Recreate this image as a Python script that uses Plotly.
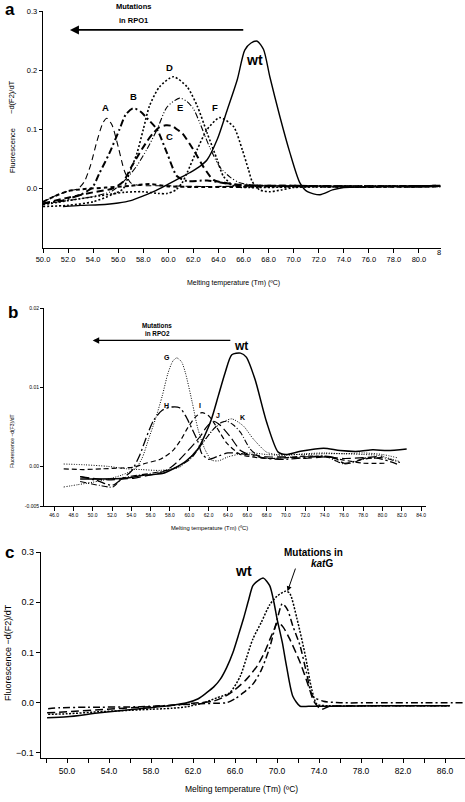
import plotly.graph_objects as go

# ---------------- Panel a data (RPO1) ----------------
a_wt_x = [51.6, 53, 54.5, 56, 57, 58, 59, 60, 61, 61.7, 62.4, 63.1, 63.9, 64.7, 65.5, 66.1, 66.6, 67.1, 67.6, 68.1, 68.9, 69.7, 70.5, 71.1, 72.1, 73.1, 74, 76, 78, 80, 81.7]
a_wt_y = [-0.030, -0.028, -0.027, -0.024, -0.020, -0.012, -0.003, 0.008, 0.019, 0.027, 0.036, 0.049, 0.083, 0.133, 0.184, 0.234, 0.246, 0.249, 0.235, 0.189, 0.122, 0.061, 0.010, -0.005, -0.010, -0.002, 0.002, 0.003, 0.004, 0.003, 0.004]
a_A_x = [50, 51, 52, 52.8, 53.3, 53.8, 54.3, 54.8, 55.1, 55.5, 56.0, 56.5, 57.0, 57.6, 58.5, 60, 62, 65, 70, 75, 81.7]
a_A_y = [-0.022, -0.012, -0.004, 0.0, 0.012, 0.04, 0.08, 0.112, 0.119, 0.108, 0.071, 0.03, 0.01, 0.006, 0.005, 0.005, 0.004, 0.004, 0.005, 0.004, 0.005]
a_B_x = [50, 51.5, 53, 53.6, 54.0, 54.5, 55.3, 56.1, 56.6, 57.2, 57.8, 58.3, 59.1, 59.9, 60.7, 61.5, 63.1, 65.2, 67, 70, 75, 81.7]
a_B_y = [-0.025, -0.02, -0.01, -0.003, 0.004, 0.026, 0.06, 0.1, 0.125, 0.136, 0.13, 0.119, 0.1, 0.06, 0.021, 0.013, 0.014, 0.007, 0.005, 0.005, 0.004, 0.005]
a_C_x = [50, 52, 54, 55.5, 56.4, 57, 57.7, 58.3, 58.8, 59.3, 59.8, 60.3, 60.7, 61.1, 62, 62.8, 63.6, 64.5, 66, 70, 75, 81.7]
a_C_y = [-0.025, -0.015, -0.006, 0.0, 0.012, 0.035, 0.06, 0.08, 0.094, 0.104, 0.107, 0.106, 0.1, 0.094, 0.066, 0.037, 0.015, 0.01, 0.006, 0.005, 0.004, 0.005]
a_D_x = [50, 52, 54, 55.5, 56.4, 56.9, 57.5, 58.0, 58.5, 59.3, 60.4, 61.5, 62.3, 63.1, 63.9, 64.4, 65.3, 66.5, 70, 75, 81.7]
a_D_y = [-0.03, -0.028, -0.022, -0.01, 0.0, 0.027, 0.06, 0.1, 0.14, 0.172, 0.189, 0.172, 0.14, 0.094, 0.049, 0.021, 0.004, 0.002, 0.003, 0.003, 0.004]
a_E_x = [50, 52, 54, 55.5, 56.7, 57.5, 58.3, 59.1, 59.9, 60.9, 61.5, 62.0, 62.5, 63.3, 64.1, 64.9, 65.7, 67, 70, 75, 81.7]
a_E_y = [-0.025, -0.02, -0.013, -0.004, 0.018, 0.039, 0.067, 0.1, 0.138, 0.153, 0.147, 0.135, 0.112, 0.07, 0.037, 0.02, 0.01, 0.006, 0.004, 0.005, 0.004]
a_F_x = [50, 52, 54.5, 56.5, 58, 59.2, 59.9, 60.6, 61.1, 61.5, 62.3, 63.1, 64.1, 65.2, 65.9, 66.4, 66.7, 67.3, 68.1, 69, 70, 72, 75, 81.7]
a_F_y = [-0.027, -0.02, -0.012, -0.006, -0.005, -0.008, -0.008, -0.002, 0.01, 0.027, 0.066, 0.1, 0.12, 0.105, 0.066, 0.032, 0.012, -0.002, -0.005, -0.002, 0.002, 0.004, 0.004, 0.005]
a_base_x = [50, 51, 52, 53, 55, 57, 58.5, 60, 62, 65, 70, 75, 81.7]
a_base_y = [-0.022, -0.012, -0.004, -0.001, 0.002, 0.005, 0.008, 0.004, 0.003, 0.003, 0.004, 0.003, 0.004]
a_xticks = [50, 52, 54, 56, 58, 60, 62, 64, 66, 68, 70, 72, 74, 76, 78, 80]
a_yticks = [0.0, 0.1, 0.2, 0.3]
a_labels = ["A", "B", "C", "D", "E", "F"]
a_label_x = [55.0, 57.2, 60.1, 60.1, 60.9, 63.7]
a_label_y = [0.137, 0.155, 0.088, 0.204, 0.137, 0.137]

# ---------------- Panel b data (RPO2) ----------------
b_wt_x = [48.7, 50.5, 53.3, 55.4, 57.2, 58.5, 59.6, 60.9, 61.6, 62.3, 63.0, 63.7, 64.4, 65.3, 65.9, 66.8, 68, 69.2, 70, 71.5, 73.9, 75.6, 77.5, 79, 80.5, 82.5]
b_wt_y = [-0.0016, -0.0016, -0.0015, -0.0011, -0.0009, -0.0002, 0.0006, 0.0022, 0.0039, 0.006, 0.0089, 0.0118, 0.0141, 0.0143, 0.0138, 0.011, 0.0056, 0.0018, 0.0015, 0.0019, 0.0023, 0.002, 0.0019, 0.0021, 0.002, 0.0022]
b_G_x = [47, 48.5, 50, 51.6, 53, 54.4, 55.1, 55.8, 56.5, 57.2, 57.8, 58.3, 58.7, 59.2, 59.6, 60.3, 60.9, 61.6, 62.3, 63, 64, 65, 66.5, 68, 70, 72, 74, 76, 78, 80, 81.5]
b_G_y = [-0.0026, -0.0023, -0.002, -0.0016, -0.0011, -0.0003, 0.001, 0.0035, 0.006, 0.0089, 0.0118, 0.0133, 0.0137, 0.0132, 0.0118, 0.0081, 0.0047, 0.0022, 0.0008, 0.0007, 0.0012, 0.0015, 0.0017, 0.0015, 0.0014, 0.0016, 0.0017, 0.0016, 0.0017, 0.0015, 0.0011]
b_H_x = [48.7, 50.5, 52, 53, 54, 54.9, 55.5, 56.3, 57.2, 58.2, 59, 59.6, 60.3, 60.9, 61.3, 62, 63, 64, 66, 68, 70, 72, 74, 75, 76, 77, 78.5, 80, 81.5]
b_H_y = [-0.0013, -0.0018, -0.0024, -0.0016, -0.0006, 0.0015, 0.0035, 0.0058, 0.0071, 0.0075, 0.0074, 0.0064, 0.0047, 0.0031, 0.0016, 0.0009, 0.0013, 0.0017, 0.0015, 0.001, 0.0009, 0.0011, 0.0013, 0.0011, 0.0004, 0.0006, 0.0011, 0.0009, 0.0003]
b_I_x = [47, 49, 51, 53, 54.2, 55.5, 57, 58.3, 59.2, 59.8, 60.6, 61.3, 62, 62.5, 63.2, 63.9, 65.3, 66.5, 68, 70, 72, 74, 76, 78, 80.4]
b_I_y = [-0.0003, -0.0004, -0.0003, -0.0002, -0.0001, 0.0004, 0.0009, 0.002, 0.0035, 0.0048, 0.0062, 0.0068, 0.0064, 0.0056, 0.0042, 0.0029, 0.0015, 0.0012, 0.001, 0.0011, 0.0013, 0.0012, 0.0008, 0.0004, 0.0004]
b_J_x = [48.7, 50, 51.6, 53, 54.2, 55.5, 57, 58, 58.7, 59.8, 60.6, 61.2, 61.8, 62.5, 63.2, 64.2, 65.3, 66, 67, 68, 70, 72, 74, 76, 78, 80]
b_J_y = [-0.0013, -0.0015, -0.0017, -0.0016, -0.0015, -0.0012, -0.0008, -0.0002, 0.0005, 0.0019, 0.003, 0.0039, 0.005, 0.0057, 0.0052, 0.0038, 0.002, 0.0016, 0.0014, 0.0012, 0.0012, 0.001, 0.0012, 0.001, 0.0011, 0.0013]
b_X_x = [48.7, 50.7, 52.1, 53.1, 55.9, 58.3, 60.1, 61.4, 62.5, 63.2, 63.9, 64.6, 65.3, 66.3, 67.3, 68.2, 70, 72, 74, 75, 76, 77, 78, 80, 81.8]
b_X_y = [-0.0019, -0.0024, -0.0026, -0.0015, -0.0009, -0.0003, 0.0009, 0.003, 0.0047, 0.0055, 0.0057, 0.0052, 0.0043, 0.0022, 0.0012, 0.001, 0.0011, 0.0012, 0.0013, 0.0008, 0.0003, 0.0005, 0.0009, 0.0011, 0.0005]
b_K_x = [47, 49.2, 51.6, 53.5, 55, 57, 59, 60.1, 61.4, 62.5, 63.5, 64.4, 65.6, 66.6, 68, 69, 70, 72, 74, 76, 78, 79.5, 81.8]
b_K_y = [0.0003, 0.0002, 0.0, -0.0003, -0.0004, -0.0005, -0.0001, 0.0012, 0.003, 0.0047, 0.0056, 0.006, 0.0051, 0.0035, 0.0018, 0.0015, 0.0015, 0.0015, 0.0016, 0.0016, 0.0015, 0.0014, 0.0006]
b_xticks = [46, 48, 50, 52, 54, 56, 58, 60, 62, 64, 66, 68, 70, 72, 74, 76, 78, 80, 82, 84]
b_yticks = [-0.005, 0.0, 0.01, 0.02]
b_yticktext = ["-0.005", "0.00", "0.01", "0.02"]
b_labels = ["G", "H", "I", "J", "K"]
b_label_x = [57.7, 57.6, 61.1, 63.0, 65.5]
b_label_y = [0.0138, 0.0077, 0.0077, 0.0064, 0.0062]

# ---------------- Panel c data (katG) ----------------
c_wt_x = [48.1, 50, 53.1, 55.5, 57.9, 60, 61.4, 62.5, 63.3, 64, 64.6, 65.2, 65.8, 66.3, 66.8, 67.3, 67.7, 68.2, 68.7, 69.3, 69.7, 70, 70.5, 70.9, 71.5, 72.2, 73, 75, 80, 86.2]
c_wt_y = [-0.03, -0.028, -0.02, -0.015, -0.01, -0.005, 0.0, 0.008, 0.02, 0.032, 0.047, 0.07, 0.1, 0.133, 0.167, 0.205, 0.233, 0.243, 0.248, 0.233, 0.2, 0.167, 0.12, 0.073, 0.013, -0.007, -0.007, -0.007, -0.006, -0.006]
c_dot_x = [48.2, 50, 53, 56, 58, 60, 61.4, 63, 64.3, 65.5, 66.5, 67.1, 67.7, 68.5, 69.3, 70, 70.8, 71.2, 71.9, 72.7, 73.3, 73.8, 75, 80, 86.5]
c_dot_y = [-0.023, -0.022, -0.018, -0.015, -0.013, -0.011, -0.008, 0.0, 0.01, 0.02, 0.053, 0.09, 0.127, 0.16, 0.195, 0.212, 0.222, 0.218, 0.167, 0.093, 0.027, -0.003, -0.006, -0.006, -0.006]
c_dd_x = [48.2, 49.3, 52, 57, 61.7, 64, 65.2, 66, 66.8, 67.7, 68.5, 69.3, 70, 70.5, 71, 71.5, 72.2, 72.8, 73.4, 74.4, 76, 80, 84, 88]
c_dd_y = [-0.012, -0.01, -0.009, -0.008, -0.003, -0.001, 0.0, 0.008, 0.02, 0.037, 0.065, 0.11, 0.165, 0.197, 0.185, 0.153, 0.113, 0.06, 0.013, 0.003, 0.0, 0.0, 0.0, 0.0]
c_ld_x = [48.1, 50, 53.8, 57, 60.1, 62, 63.9, 65, 65.8, 66.5, 67.1, 68.1, 68.8, 69.5, 70.1, 70.6, 71.2, 72.2, 73, 73.5, 74.2, 75, 78, 82, 86.5]
c_ld_y = [-0.02, -0.018, -0.013, -0.009, -0.005, -0.001, 0.003, 0.012, 0.023, 0.035, 0.047, 0.073, 0.1, 0.135, 0.16, 0.15, 0.127, 0.08, 0.033, 0.003, -0.013, -0.007, -0.006, -0.006, -0.006]
c_xticks = [48, 50, 52, 54, 56, 58, 60, 62, 64, 66, 68, 70, 72, 74, 76, 78, 80, 82, 84, 86]
c_xticktext = [f"{v:.1f}" if v % 4 == 2 else "" for v in c_xticks]
c_yticks = [-0.1, 0.0, 0.1, 0.2, 0.3]

FONT = "Liberation Sans, Arial, sans-serif"
W, H = 465, 802

def px(xp):
    return xp / W

def py(yp):
    return 1 - yp / H

fig = go.Figure()

def add(x, y, dash, width, xa, ya):
    fig.add_trace(go.Scatter(x=x, y=y, mode="lines", xaxis=xa, yaxis=ya,
                             line=dict(color="black", width=width, dash=dash, shape="spline", smoothing=0.7),
                             showlegend=False, hoverinfo="skip"))

# panel a traces
add(a_base_x, a_base_y, "4px,3px", 2.0, "x", "y")
add(a_A_x, a_A_y, "6px,4px", 1.1, "x", "y")
add(a_B_x, a_B_y, "7px,3px,2px,3px", 2.0, "x", "y")
add(a_C_x, a_C_y, "7px,4px", 2.0, "x", "y")
add(a_D_x, a_D_y, "2px,2px", 1.6, "x", "y")
add(a_E_x, a_E_y, "6px,2px,1px,2px,1px,2px", 1.1, "x", "y")
add(a_F_x, a_F_y, "2px,2px", 1.6, "x", "y")
add(a_wt_x, a_wt_y, "solid", 1.4, "x", "y")

# panel b traces
add(b_I_x, b_I_y, "5px,3px", 1.2, "x2", "y2")
add(b_J_x, b_J_y, "9px,4px", 1.2, "x2", "y2")
add(b_X_x, b_X_y, "6px,2px,1px,2px", 1.1, "x2", "y2")
add(b_H_x, b_H_y, "9px,3px,2px,3px", 1.3, "x2", "y2")
add(b_K_x, b_K_y, "1px,1.5px", 1.0, "x2", "y2")
add(b_G_x, b_G_y, "1px,1.5px", 1.0, "x2", "y2")
add(b_wt_x, b_wt_y, "solid", 1.5, "x2", "y2")

# panel c traces
add(c_ld_x, c_ld_y, "8px,4px", 1.5, "x3", "y3")
add(c_dd_x, c_dd_y, "7px,3px,2px,3px", 1.5, "x3", "y3")
add(c_dot_x, c_dot_y, "2px,1.5px", 1.5, "x3", "y3")
add(c_wt_x, c_wt_y, "solid", 1.5, "x3", "y3")

axis_common = dict(showline=True, linecolor="black", showgrid=False, zeroline=False,
                   ticks="outside", tickcolor="black", color="black", automargin=False)

fig.update_layout(
    width=W, height=H, margin=dict(l=0, r=0, t=0, b=0, pad=0),
    paper_bgcolor="white", plot_bgcolor="white",
    font=dict(family=FONT, color="black"),
    xaxis=dict(**axis_common, domain=[px(43), px(441)], range=[50, 81.76], anchor="y",
               tickvals=a_xticks, tickformat=".1f", ticklen=4, linewidth=1.3,
               tickfont=dict(size=7.5, family=FONT)),
    yaxis=dict(**axis_common, domain=[py(248), py(11)], range=[-0.1, 0.3], anchor="x",
               tickvals=a_yticks, tickformat=".1f", ticklen=3, linewidth=1.3,
               tickfont=dict(size=7.5, family=FONT)),
    xaxis2=dict(**axis_common, domain=[px(44), px(426)], range=[44.96, 84.5], anchor="y2",
                tickvals=b_xticks, tickformat=".1f", ticklen=4, linewidth=1,
                tickfont=dict(size=5, family=FONT)),
    yaxis2=dict(**axis_common, domain=[py(506), py(308)], range=[-0.005, 0.02], anchor="x2",
                tickvals=b_yticks, ticktext=b_yticktext, ticklen=3, linewidth=1,
                tickfont=dict(size=5, family=FONT)),
    xaxis3=dict(**axis_common, domain=[px(41), 1.0], range=[47.52, 87.9], anchor="y3",
                tickvals=c_xticks, ticktext=c_xticktext, ticklen=4, linewidth=1.3,
                tickfont=dict(size=8.5, family=FONT)),
    yaxis3=dict(**axis_common, domain=[py(758), py(552)], range=[-0.11, 0.3], anchor="x3",
                tickvals=c_yticks, tickformat=".1f", ticklen=4, linewidth=1.3,
                tickfont=dict(size=9, family=FONT)),
)

ann = []
def note(text, x, y, size, xref="paper", yref="paper", angle=0, bold=False, xanchor="center"):
    t = f"<b>{text}</b>" if bold else text
    ann.append(dict(text=t, x=x, y=y, xref=xref, yref=yref, showarrow=False, textangle=angle,
                    xanchor=xanchor, yanchor="middle", font=dict(size=size, family=FONT, color="black")))

# panel letters
note("a", px(10), py(9), 17, bold=True)
note("b", px(13), py(313), 17, bold=True)
note("c", px(9), py(552), 17, bold=True)

# axis titles
note("Melting temperature (Tm) (ºC)", px(233), py(283), 7)
note("Melting temperature (Tm) (ºC)", px(209), py(528), 5.8)
note("Melting temperature (Tm) (ºC)", px(241), py(789), 8.5)
note("Fluorescence", px(12), py(151), 7.5, angle=-90)
note("−d(F2)/dT", px(12), py(97), 7.5, angle=-90)
note("Fluorescence −d(F3)/dT", px(12), py(441), 5, angle=-90)
note("Fluorescence −d(F2)/dT", px(8), py(653), 9, angle=-90)
note("8", px(439), py(253), 7.5)

# text blocks placed in page coordinates (outside the plotting ranges)
note("Mutations", px(133), py(7), 7.5, bold=True)
note("in RPO1", px(133), py(20), 7.5, bold=True)
note("Mutations in", px(313), py(552), 10, bold=True)

# panel a curve labels
for t, x, y in zip(a_labels, a_label_x, a_label_y):
    note(t, x, y, 9.5, xref="x", yref="y", bold=True)
note("wt", 66.9, 0.218, 14, xref="x", yref="y", bold=True)
ann.append(dict(x=52.15, y=0.268, ax=66.1, ay=0.268, xref="x", yref="y", axref="x", ayref="y",
                showarrow=True, arrowhead=2, arrowsize=1.0, arrowwidth=1.8, arrowcolor="black", text=""))

# panel b curve labels
for t, x, y in zip(b_labels, b_label_x, b_label_y):
    note(t, x, y, 7, xref="x2", yref="y2", bold=True)
note("wt", 65.3, 0.0152, 12, xref="x2", yref="y2", bold=True)
note("Mutations", 56.7, 0.0178, 6.3, xref="x2", yref="y2", bold=True)
note("in RPO2", 56.7, 0.0168, 6.3, xref="x2", yref="y2", bold=True)
ann.append(dict(x=50.0, y=0.0159, ax=64.4, ay=0.0159, xref="x2", yref="y2", axref="x2", ayref="y2",
                showarrow=True, arrowhead=2, arrowsize=1.0, arrowwidth=1.3, arrowcolor="black", text=""))

# panel c labels
note("wt", 66.8, 0.263, 14, xref="x3", yref="y3", bold=True)
note("<i>kat</i>G", 74.3, 0.277, 10, xref="x3", yref="y3", bold=True)
ann.append(dict(x=71.0, y=0.222, ax=71.8, ay=0.27, xref="x3", yref="y3", axref="x3", ayref="y3",
                showarrow=True, arrowhead=2, arrowsize=1.0, arrowwidth=1.0, arrowcolor="black", text=""))

fig.update_layout(annotations=ann)
fig.write_html("out.html", config={"displayModeBar": False, "staticPlot": True})

# remove the browser's default page margin so the figure sits at the page origin
with open("out.html", "r", encoding="utf-8") as f:
    html = f.read()
html = html.replace("<body>", '<body style="margin:0;padding:0;overflow:hidden">', 1)
html = html.replace("<head>", "<head><style>html,body{margin:0;padding:0;}</style>", 1)
with open("out.html", "w", encoding="utf-8") as f:
    f.write(html)
